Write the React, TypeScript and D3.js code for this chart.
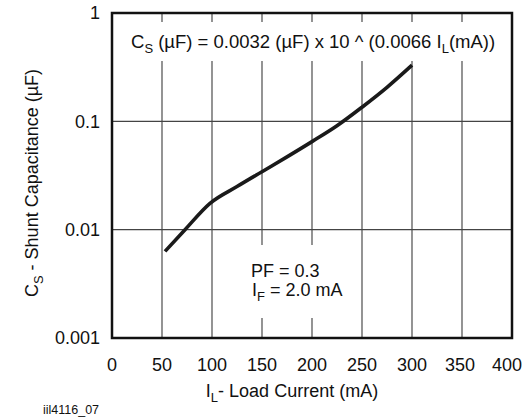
import React from "react";
import * as d3 from "d3";

const xTicks = [0, 50, 100, 150, 200, 250, 300, 350, 400];
const yTicks = [0.001, 0.01, 0.1, 1];
const yTickLabels = ["0.001", "0.01", "0.1", "1"];
const curveX = [53, 73, 98, 125, 150, 175, 200, 225, 250, 275, 300];
const curveY = [0.0063, 0.01, 0.0175, 0.025, 0.0343, 0.047, 0.065, 0.091, 0.135, 0.206, 0.33];

const W = 529;
const H = 417;
const m = { left: 112, right: 512, top: 13, bottom: 338 };
const FONT = "'Liberation Sans', Arial, Helvetica, sans-serif";
const FS = 18;
const SUB = 13;

export default function App() {
  const x = d3.scaleLinear().domain([0, 400]).range([m.left, m.right]);
  const y = d3.scaleLog().domain([0.001, 1]).range([m.bottom, m.top]);
  const pts: [number, number][] = curveX.map((v, i) => [v, curveY[i]]);
  const line = d3
    .line<[number, number]>()
    .x((d) => x(d[0]))
    .y((d) => y(d[1]))
    .curve(d3.curveMonotoneX);

  return (
    <svg
      width={W}
      height={H}
      style={{ position: "absolute", left: 0, top: 0, background: "#fff" }}
      fontFamily={FONT}
    >
      <rect x={0} y={0} width={W} height={H} fill="#fff" />
      {xTicks.slice(1, -1).map((t) => (
        <line key={"gx" + t} x1={x(t)} x2={x(t)} y1={m.top} y2={m.bottom} stroke="#5a5a5a" strokeWidth={1.3} />
      ))}
      {yTicks.slice(1, -1).map((t) => (
        <line key={"gy" + t} x1={m.left} x2={m.right} y1={y(t)} y2={y(t)} stroke="#444" strokeWidth={1.3} />
      ))}
      <rect x={120} y={22} width={385} height={39} fill="#fff" />
      <rect x={240} y={245} width={105} height={73} fill="#fff" />
      <path d={line(pts) || ""} fill="none" stroke="#1a1a1a" strokeWidth={3.6} />
      <rect x={m.left} y={m.top} width={m.right - m.left} height={m.bottom - m.top} fill="none" stroke="#111" strokeWidth={2.5} />
      {yTicks.map((t, i) => (
        <text key={"yl" + t} x={100} y={y(t)} dy="0.36em" textAnchor="end" fontSize={FS} fill="#111">
          {yTickLabels[i]}
        </text>
      ))}
      {xTicks.map((t) => (
        <text key={"xl" + t} x={x(t) - (t === 400 ? 5 : t === 350 ? 2 : 0)} y={371} textAnchor="middle" fontSize={FS} fill="#111">
          {t}
        </text>
      ))}
      <text x={131} y={48} fontSize={18.5} fill="#111">
        C<tspan fontSize={SUB} dy={5}>S</tspan>
        <tspan dy={-5}> (µF) = 0.0032 (µF) x 10 ^ (0.0066 I</tspan>
        <tspan fontSize={SUB} dy={5}>L</tspan>
        <tspan dy={-5}>(mA))</tspan>
      </text>
      <text x={251} y={277} fontSize={FS} fill="#111">PF = 0.3</text>
      <text x={252} y={296} fontSize={FS} fill="#111">
        I<tspan fontSize={SUB} dy={5}>F</tspan>
        <tspan dy={-5}> = 2.0 mA</tspan>
      </text>
      <text x={292} y={397} textAnchor="middle" fontSize={FS} fill="#111">
        I<tspan fontSize={SUB} dy={5}>L</tspan>
        <tspan dy={-5}>- Load Current (mA)</tspan>
      </text>
      <text transform="translate(38,183) rotate(-90)" textAnchor="middle" fontSize={FS} fill="#111">
        C<tspan fontSize={SUB} dy={5}>S</tspan>
        <tspan dy={-5}> - Shunt Capacitance (µF)</tspan>
      </text>
      <text x={43} y={414} fontSize={12.5} fill="#111">iil4116_07</text>
    </svg>
  );
}
